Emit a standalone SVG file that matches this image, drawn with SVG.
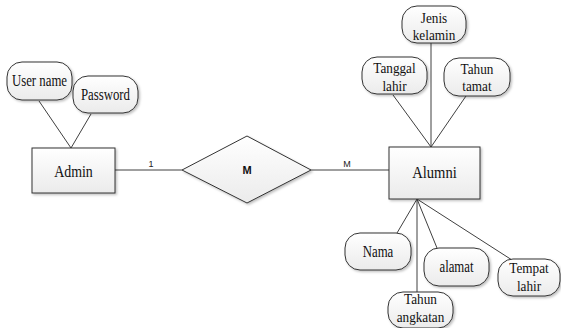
<svg xmlns="http://www.w3.org/2000/svg" width="561" height="328" viewBox="0 0 561 328">
<style>
.bg{fill:#ffffff}
.ent{fill:url(#g);stroke:#333333;stroke-width:1;filter:url(#sh)}
.att{fill:url(#g);stroke:#333333;stroke-width:1;filter:url(#sh)}
.rel{fill:url(#g);stroke:#333333;stroke-width:1;filter:url(#sh)}
.ln{stroke:#404040;stroke-width:1;fill:none}
.t{font-family:'Liberation Serif','DejaVu Serif',serif;font-size:16px;fill:#111;text-anchor:middle}
.t2{font-family:'Liberation Serif','DejaVu Serif',serif;font-size:15px;fill:#111;text-anchor:middle}
.te{font-family:'Liberation Serif','DejaVu Serif',serif;font-size:17px;fill:#111;text-anchor:middle}
.s{font-family:'Liberation Sans',Arial,sans-serif;font-size:9px;fill:#222;text-anchor:middle}
.sb{font-family:'Liberation Sans',Arial,sans-serif;font-size:11px;font-weight:bold;fill:#111;text-anchor:middle}
</style>
<defs>
<linearGradient id="g" x1="0" y1="0" x2="0" y2="1">
<stop offset="0" stop-color="#ffffff"/>
<stop offset="1" stop-color="#ebebeb"/>
</linearGradient>
<filter id="sh" x="-10%" y="-10%" width="130%" height="140%">
<feDropShadow dx="1.5" dy="1.5" stdDeviation="0.8" flood-color="#000" flood-opacity="0.25"/>
</filter>
</defs>
<rect class="bg" x="0" y="0" width="561" height="328"/>

<g id="connectors">
<line class="ln" x1="39" y1="101" x2="71" y2="148"/>
<line class="ln" x1="91" y1="114" x2="71" y2="148"/>
<line class="ln" x1="115" y1="170" x2="182" y2="170"/>
<line class="ln" x1="311" y1="170" x2="389" y2="170"/>
<line class="ln" x1="431" y1="43" x2="431" y2="147"/>
<line class="ln" x1="393" y1="95" x2="431" y2="147"/>
<line class="ln" x1="466" y1="96" x2="431" y2="147"/>
<line class="ln" x1="397" y1="233" x2="417" y2="199"/>
<line class="ln" x1="417" y1="199" x2="417" y2="292"/>
<line class="ln" x1="437" y1="248" x2="417" y2="199"/>
<line class="ln" x1="512" y1="260" x2="417" y2="199"/>
<text class="s" x="151" y="167">1</text>
<text class="s" x="347" y="167">M</text>
</g>

<g id="admin">
<rect class="ent" x="32" y="148" width="83" height="45"/>
<text class="te" transform="translate(73.5 177) scale(0.82 1)">Admin</text>
</g>

<g id="relasi">
<polygon class="rel" points="182,170 247,136 311,170 247,203"/>
<text class="sb" x="247" y="174">M</text>
</g>

<g id="alumni">
<rect class="ent" x="389" y="147" width="91" height="52"/>
<text class="te" transform="translate(434.5 178) scale(0.86 1)">Alumni</text>
</g>

<g id="username">
<rect class="att" x="7" y="62" width="65" height="38" rx="15"/>
<text class="t" transform="translate(39.5 86) scale(0.8 1)">User name</text>
</g>

<g id="password">
<rect class="att" x="73" y="76" width="65" height="37" rx="15"/>
<text class="t" transform="translate(105.5 100) scale(0.8 1)">Password</text>
</g>

<g id="jeniskelamin">
<rect class="att" x="402" y="6" width="64" height="37" rx="15"/>
<text class="t2" transform="translate(434 22.5) scale(0.88 1)">Jenis</text>
<text class="t2" transform="translate(434 40) scale(0.88 1)">kelamin</text>
</g>

<g id="tanggallahir">
<rect class="att" x="362" y="57" width="65" height="37" rx="15"/>
<text class="t2" transform="translate(394.5 73) scale(0.88 1)">Tanggal</text>
<text class="t2" transform="translate(394.5 90.5) scale(0.88 1)">lahir</text>
</g>

<g id="tahuntamat">
<rect class="att" x="444" y="58" width="66" height="38" rx="15"/>
<text class="t2" transform="translate(477 73.5) scale(0.88 1)">Tahun</text>
<text class="t2" transform="translate(477 91) scale(0.88 1)">tamat</text>
</g>

<g id="nama">
<rect class="att" x="345" y="233" width="66" height="37" rx="15"/>
<text class="t" transform="translate(378 257) scale(0.8 1)">Nama</text>
</g>

<g id="alamat">
<rect class="att" x="424" y="248" width="65" height="38" rx="15"/>
<text class="t" transform="translate(456.5 272) scale(0.8 1)">alamat</text>
</g>

<g id="tempatlahir">
<rect class="att" x="498" y="259" width="62" height="37" rx="15"/>
<text class="t2" transform="translate(529 272.5) scale(0.88 1)">Tempat</text>
<text class="t2" transform="translate(529 291) scale(0.88 1)">lahir</text>
</g>

<g id="tahunangkatan">
<rect class="att" x="388" y="292" width="65" height="36" rx="15"/>
<text class="t2" transform="translate(420.5 304) scale(0.88 1)">Tahun</text>
<text class="t2" transform="translate(420.5 321.5) scale(0.88 1)">angkatan</text>
</g>
</svg>
